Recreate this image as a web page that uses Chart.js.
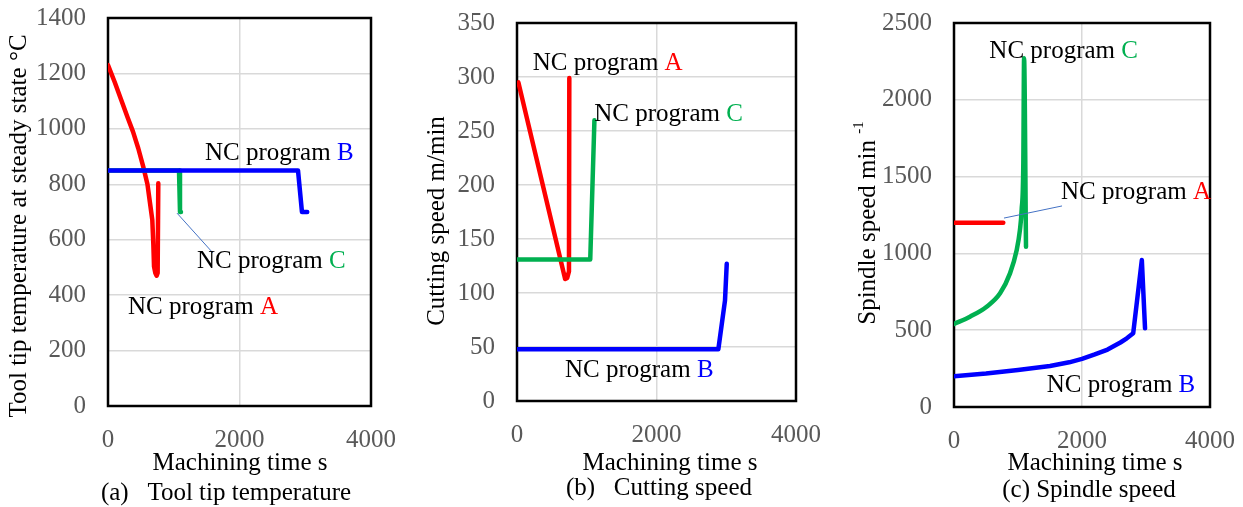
<!DOCTYPE html>
<html>
<head>
<meta charset="utf-8">
<script src="https://cdn.jsdelivr.net/npm/chart.js@4"></script>
<style>
  html, body { margin: 0; padding: 0; background: #fff; }
  #wrap { position: relative; width: 1243px; height: 507px; }
  .panel { position: absolute; top: 0; height: 507px; }
</style>
</head>
<body>
<div id="wrap">
  <div class="panel" style="left:0;width:410px"><canvas id="chartA"></canvas></div>
  <div class="panel" style="left:410px;width:420px"><canvas id="chartB"></canvas></div>
  <div class="panel" style="left:830px;width:413px"><canvas id="chartC"></canvas></div>
</div>
<script>
// x axis shared
const xTicks = [0, 2000, 4000];

// (a) tool tip temperature
const tempTimeA = [0, 100, 200, 300, 380, 460, 540, 600, 639, 674, 690, 700, 720, 740, 755, 765];
const tempValA  = [1230, 1170, 1105, 1040, 990, 930, 860, 800, 732, 671, 580, 503, 480, 470, 480, 804];
const tempTimeB = [0, 2890, 2950, 3030];
const tempValB  = [850, 850, 700, 700];
const tempTimeC = [0, 1080, 1095, 1110];
const tempValC  = [850, 850, 700, 700];
const tempTicks = [0, 200, 400, 600, 800, 1000, 1200, 1400];

// (b) cutting speed
const cutTimeA = [20, 690, 720, 745, 750];
const cutValA  = [295, 113, 114, 120, 299];
const cutTimeB = [0, 2887, 2982, 3007];
const cutValB  = [48, 48, 93, 127];
const cutTimeC = [0, 1050, 1110];
const cutValC  = [131, 131, 260];
const cutTicks = [0, 50, 100, 150, 200, 250, 300, 350];

// (c) spindle speed
const spinTimeA = [0, 770];
const spinValA  = [1200, 1200];
const spinTimeB = [0, 500, 1000, 1500, 1800, 2000, 2200, 2400, 2600, 2700, 2800, 2935, 2985];
const spinValB  = [200, 218, 241, 267, 291, 313, 342, 374, 420, 447, 480, 957, 512];
const spinTimeC = [0, 250, 510, 720, 875, 980, 1030, 1057, 1083, 1095, 1125];
const spinValC  = [540, 588, 653, 740, 870, 1022, 1152, 1283, 1587, 2270, 1044];
const spinTicks = [0, 500, 1000, 1500, 2000, 2500];

const RED = '#FF0000', BLUE = '#0000FF', GREEN = '#00B050';
const SERIF = '"Liberation Serif", "Times New Roman", serif';

function pts(xs, ys) {
  return xs.map((x, i) => ({ x: x, y: ys[i] }));
}

function series(xs, ys, color, smooth) {
  const ds = {
    data: pts(xs, ys),
    borderColor: color,
    backgroundColor: color,
    borderWidth: 4.5,
    pointRadius: 0,
    tension: 0,
    borderJoinStyle: 'round',
    borderCapStyle: 'round'
  };
  if (smooth) ds.cubicInterpolationMode = 'monotone';
  return ds;
}

// tick label overflow should not push the plot area around
function noOverflow(s) {
  s.paddingTop = 0;
  s.paddingBottom = 0;
  s.paddingLeft = 0;
  s.paddingRight = 0;
}

// black box round the plot area
const frame = {
  id: 'frame',
  beforeDatasetsDraw(chart) {
    const { ctx, chartArea: a } = chart;
    ctx.save();
    ctx.strokeStyle = '#000';
    ctx.lineWidth = 2.5;
    ctx.strokeRect(a.left, a.top, a.right - a.left, a.bottom - a.top);
    ctx.restore();
  }
};

// titles, captions, "NC program X" labels and leader lines
const texts = {
  id: 'texts',
  afterDraw(chart, args, o) {
    const ctx = chart.ctx;
    const xs = chart.scales.x, ys = chart.scales.y;
    ctx.save();
    ctx.font = '25px ' + SERIF;
    ctx.fillStyle = '#000';
    ctx.textAlign = 'center';
    ctx.textBaseline = 'middle';
    ctx.fillText(o.xTitle, o.xTitlePos[0], o.xTitlePos[1]);
    ctx.fillText(o.caption, o.captionPos[0], o.captionPos[1]);

    // rotated y title, with optional superscript part
    ctx.save();
    ctx.translate(o.yTitlePos[0], o.yTitlePos[1]);
    ctx.rotate(-Math.PI / 2);
    ctx.textAlign = 'left';
    const main = o.yTitle;
    const sup = o.yTitleSup || '';
    ctx.font = '25px ' + SERIF;
    const w1 = ctx.measureText(main).width;
    ctx.font = '15px ' + SERIF;
    const w2 = sup ? ctx.measureText(sup).width : 0;
    let x0 = -(w1 + w2) / 2;
    ctx.font = '25px ' + SERIF;
    ctx.fillText(main, x0, 0);
    if (sup) {
      ctx.font = '15px ' + SERIF;
      ctx.fillText(sup, x0 + w1, -9);
    }
    ctx.restore();

    // leader lines
    ctx.strokeStyle = '#4472C4';
    ctx.lineWidth = 1;
    (o.leaders || []).forEach(l => {
      ctx.beginPath();
      ctx.moveTo(xs.getPixelForValue(l[0]), ys.getPixelForValue(l[1]));
      ctx.lineTo(xs.getPixelForValue(l[2]), ys.getPixelForValue(l[3]));
      ctx.stroke();
    });

    // series labels
    ctx.font = '25px ' + SERIF;
    ctx.textAlign = 'left';
    o.labels.forEach(l => {
      const px = xs.getPixelForValue(l.x);
      const py = ys.getPixelForValue(l.y);
      const pre = 'NC program ';
      ctx.fillStyle = '#000';
      ctx.fillText(pre, px, py);
      ctx.fillStyle = l.color;
      ctx.fillText(l.key, px + ctx.measureText(pre).width, py);
    });
    ctx.restore();
  }
};

function makeChart(id, cfg) {
  return new Chart(document.getElementById(id), {
    type: 'line',
    data: { datasets: cfg.datasets },
    options: {
      responsive: true,
      maintainAspectRatio: false,
      animation: false,
      layout: { padding: { top: cfg.top, right: cfg.right, left: 0, bottom: 0 } },
      plugins: {
        legend: { display: false },
        tooltip: { enabled: false },
        texts: cfg.texts
      },
      scales: {
        x: {
          type: 'linear',
          min: 0, max: 4000,
          afterBuildTicks: s => { s.ticks = xTicks.map(v => ({ value: v })); },
          afterFit: s => { s.height = cfg.xHeight; noOverflow(s); },
          grid: { color: '#d9d9d9', lineWidth: 1.5, drawTicks: false },
          border: { display: false },
          ticks: {
            color: '#595959', padding: 19, maxRotation: 0,
            font: { family: SERIF, size: 25 },
            callback: v => String(v)
          }
        },
        y: {
          type: 'linear',
          min: 0, max: cfg.yTicks[cfg.yTicks.length - 1],
          afterBuildTicks: s => { s.ticks = cfg.yTicks.map(v => ({ value: v })); },
          afterFit: s => { s.width = cfg.yWidth; noOverflow(s); },
          grid: { color: '#d9d9d9', lineWidth: 1.5, drawTicks: false },
          border: { display: false },
          ticks: {
            color: '#595959', padding: 22,
            font: { family: SERIF, size: 25 },
            callback: v => String(v)
          }
        }
      }
    },
    plugins: [frame, texts]
  });
}

makeChart('chartA', {
  datasets: [
    series(tempTimeB, tempValB, BLUE),
    series(tempTimeC, tempValC, GREEN),
    series(tempTimeA, tempValA, RED)
  ],
  yTicks: tempTicks,
  top: 18, right: 39, yWidth: 108, xHeight: 101,
  texts: {
    xTitle: 'Machining time s', xTitlePos: [240, 463],
    caption: '(a)   Tool tip temperature', captionPos: [226, 493],
    yTitle: 'Tool tip temperature at steady state °C', yTitlePos: [19, 226],
    leaders: [[1049, 696, 1597, 552]],
    labels: [
      { x: 1475, y: 913, key: 'B', color: BLUE },
      { x: 1354, y: 520, key: 'C', color: GREEN },
      { x: 304, y: 354, key: 'A', color: RED }
    ]
  }
});

makeChart('chartB', {
  datasets: [
    series(cutTimeB, cutValB, BLUE),
    series(cutTimeC, cutValC, GREEN),
    series(cutTimeA, cutValA, RED)
  ],
  yTicks: cutTicks,
  top: 23, right: 34, yWidth: 107, xHeight: 106,
  texts: {
    xTitle: 'Machining time s', xTitlePos: [260, 463],
    caption: '(b)   Cutting speed', captionPos: [249, 488],
    yTitle: 'Cutting speed m/min', yTitlePos: [27, 221],
    labels: [
      { x: 225, y: 313, key: 'A', color: RED },
      { x: 1108, y: 265, key: 'C', color: GREEN },
      { x: 688, y: 28, key: 'B', color: BLUE }
    ]
  }
});

makeChart('chartC', {
  datasets: [
    series(spinTimeB, spinValB, BLUE),
    series(spinTimeA, spinValA, RED),
    series(spinTimeC, spinValC, GREEN, true)
  ],
  yTicks: spinTicks,
  top: 23, right: 33, yWidth: 124, xHeight: 100,
  texts: {
    xTitle: 'Machining time s', xTitlePos: [265, 463],
    caption: '(c) Spindle speed', captionPos: [259, 490],
    yTitle: 'Spindle speed min ', yTitleSup: '-1', yTitlePos: [38, 223],
    leaders: [[781, 1230, 1688, 1309]],
    labels: [
      { x: 552, y: 2313, key: 'C', color: GREEN },
      { x: 1672, y: 1395, key: 'A', color: RED },
      { x: 1448, y: 143, key: 'B', color: BLUE }
    ]
  }
});
</script>
</body>
</html>
